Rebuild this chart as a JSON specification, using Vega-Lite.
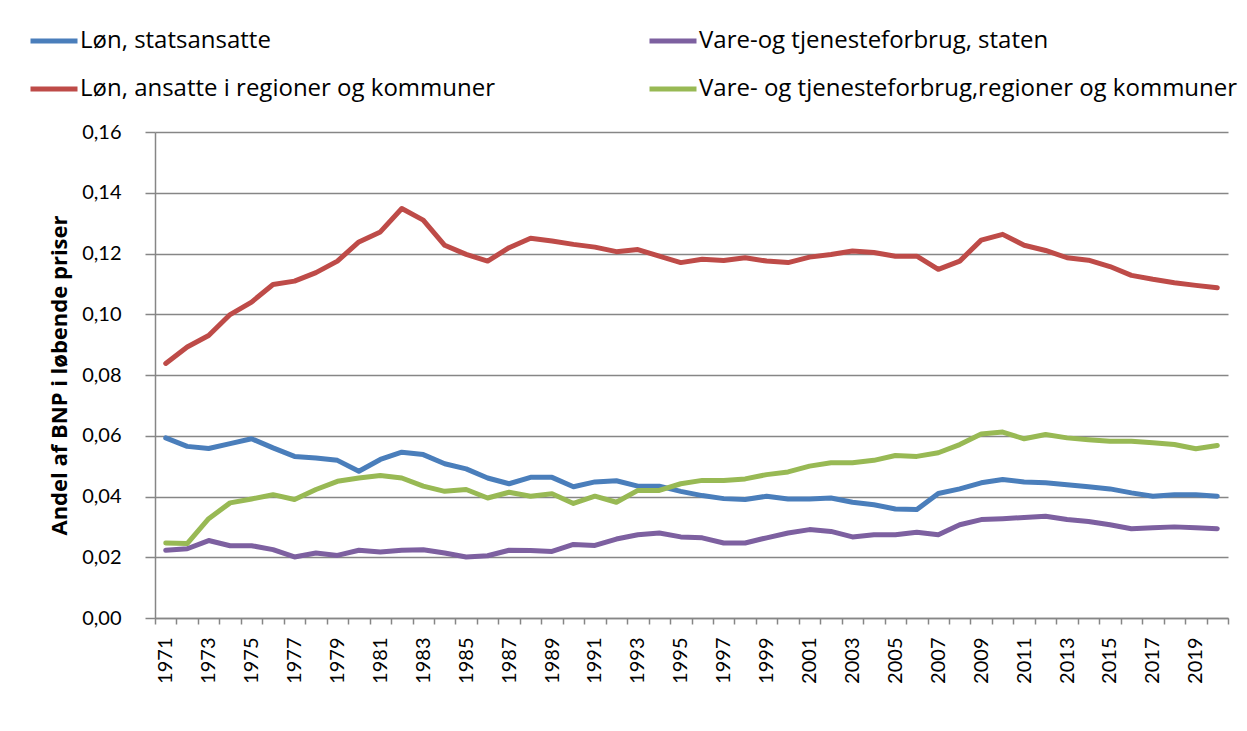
{
  "$schema": "https://vega.github.io/schema/vega-lite/v6.json",
  "autosize": {"type": "none"},
  "width": 1073,
  "height": 486,
  "padding": {"left": 155, "top": 132, "right": 19, "bottom": 113},
  "background": "white",
  "config": {
    "font": "Lato",
    "view": {"stroke": null},
    "axis": {"labelColor": "#000000", "titleColor": "#000000", "labelFont": "Lato", "titleFont": "Open Sans"}
  },
  "data": {
    "values": [
      {"year": 1971, "Løn, statsansatte": 0.0593, "Løn, ansatte i regioner og kommuner": 0.0838, "Vare-og tjenesteforbrug, staten": 0.0223, "Vare- og tjenesteforbrug,regioner og kommuner": 0.0247},
      {"year": 1972, "Løn, statsansatte": 0.0565, "Løn, ansatte i regioner og kommuner": 0.0892, "Vare-og tjenesteforbrug, staten": 0.0228, "Vare- og tjenesteforbrug,regioner og kommuner": 0.0245},
      {"year": 1973, "Løn, statsansatte": 0.0558, "Løn, ansatte i regioner og kommuner": 0.0930, "Vare-og tjenesteforbrug, staten": 0.0255, "Vare- og tjenesteforbrug,regioner og kommuner": 0.0327},
      {"year": 1974, "Løn, statsansatte": 0.0574, "Løn, ansatte i regioner og kommuner": 0.0999, "Vare-og tjenesteforbrug, staten": 0.0238, "Vare- og tjenesteforbrug,regioner og kommuner": 0.0379},
      {"year": 1975, "Løn, statsansatte": 0.0590, "Løn, ansatte i regioner og kommuner": 0.1040, "Vare-og tjenesteforbrug, staten": 0.0238, "Vare- og tjenesteforbrug,regioner og kommuner": 0.0392},
      {"year": 1976, "Løn, statsansatte": 0.0560, "Løn, ansatte i regioner og kommuner": 0.1098, "Vare-og tjenesteforbrug, staten": 0.0225, "Vare- og tjenesteforbrug,regioner og kommuner": 0.0406},
      {"year": 1977, "Løn, statsansatte": 0.0532, "Løn, ansatte i regioner og kommuner": 0.1109, "Vare-og tjenesteforbrug, staten": 0.0201, "Vare- og tjenesteforbrug,regioner og kommuner": 0.0390},
      {"year": 1978, "Løn, statsansatte": 0.0527, "Løn, ansatte i regioner og kommuner": 0.1137, "Vare-og tjenesteforbrug, staten": 0.0214, "Vare- og tjenesteforbrug,regioner og kommuner": 0.0423},
      {"year": 1979, "Løn, statsansatte": 0.0519, "Løn, ansatte i regioner og kommuner": 0.1175, "Vare-og tjenesteforbrug, staten": 0.0206, "Vare- og tjenesteforbrug,regioner og kommuner": 0.0450},
      {"year": 1980, "Løn, statsansatte": 0.0483, "Løn, ansatte i regioner og kommuner": 0.1238, "Vare-og tjenesteforbrug, staten": 0.0223, "Vare- og tjenesteforbrug,regioner og kommuner": 0.0461},
      {"year": 1981, "Løn, statsansatte": 0.0522, "Løn, ansatte i regioner og kommuner": 0.1271, "Vare-og tjenesteforbrug, staten": 0.0217, "Vare- og tjenesteforbrug,regioner og kommuner": 0.0469},
      {"year": 1982, "Løn, statsansatte": 0.0546, "Løn, ansatte i regioner og kommuner": 0.1348, "Vare-og tjenesteforbrug, staten": 0.0223, "Vare- og tjenesteforbrug,regioner og kommuner": 0.0461},
      {"year": 1983, "Løn, statsansatte": 0.0538, "Løn, ansatte i regioner og kommuner": 0.1310, "Vare-og tjenesteforbrug, staten": 0.0225, "Vare- og tjenesteforbrug,regioner og kommuner": 0.0434},
      {"year": 1984, "Løn, statsansatte": 0.0508, "Løn, ansatte i regioner og kommuner": 0.1227, "Vare-og tjenesteforbrug, staten": 0.0214, "Vare- og tjenesteforbrug,regioner og kommuner": 0.0417},
      {"year": 1985, "Løn, statsansatte": 0.0491, "Løn, ansatte i regioner og kommuner": 0.1197, "Vare-og tjenesteforbrug, staten": 0.0201, "Vare- og tjenesteforbrug,regioner og kommuner": 0.0423},
      {"year": 1986, "Løn, statsansatte": 0.0461, "Løn, ansatte i regioner og kommuner": 0.1175, "Vare-og tjenesteforbrug, staten": 0.0205, "Vare- og tjenesteforbrug,regioner og kommuner": 0.0395},
      {"year": 1987, "Løn, statsansatte": 0.0442, "Løn, ansatte i regioner og kommuner": 0.1219, "Vare-og tjenesteforbrug, staten": 0.0223, "Vare- og tjenesteforbrug,regioner og kommuner": 0.0414},
      {"year": 1988, "Løn, statsansatte": 0.0463, "Løn, ansatte i regioner og kommuner": 0.1250, "Vare-og tjenesteforbrug, staten": 0.0222, "Vare- og tjenesteforbrug,regioner og kommuner": 0.0401},
      {"year": 1989, "Løn, statsansatte": 0.0463, "Løn, ansatte i regioner og kommuner": 0.1241, "Vare-og tjenesteforbrug, staten": 0.0219, "Vare- og tjenesteforbrug,regioner og kommuner": 0.0409},
      {"year": 1990, "Løn, statsansatte": 0.0432, "Løn, ansatte i regioner og kommuner": 0.1230, "Vare-og tjenesteforbrug, staten": 0.0242, "Vare- og tjenesteforbrug,regioner og kommuner": 0.0377},
      {"year": 1991, "Løn, statsansatte": 0.0448, "Løn, ansatte i regioner og kommuner": 0.1221, "Vare-og tjenesteforbrug, staten": 0.0239, "Vare- og tjenesteforbrug,regioner og kommuner": 0.0401},
      {"year": 1992, "Løn, statsansatte": 0.0452, "Løn, ansatte i regioner og kommuner": 0.1206, "Vare-og tjenesteforbrug, staten": 0.0260, "Vare- og tjenesteforbrug,regioner og kommuner": 0.0381},
      {"year": 1993, "Løn, statsansatte": 0.0434, "Løn, ansatte i regioner og kommuner": 0.1213, "Vare-og tjenesteforbrug, staten": 0.0274, "Vare- og tjenesteforbrug,regioner og kommuner": 0.0420},
      {"year": 1994, "Løn, statsansatte": 0.0434, "Løn, ansatte i regioner og kommuner": 0.1191, "Vare-og tjenesteforbrug, staten": 0.0280, "Vare- og tjenesteforbrug,regioner og kommuner": 0.0420},
      {"year": 1995, "Løn, statsansatte": 0.0417, "Løn, ansatte i regioner og kommuner": 0.1170, "Vare-og tjenesteforbrug, staten": 0.0267, "Vare- og tjenesteforbrug,regioner og kommuner": 0.0442},
      {"year": 1996, "Løn, statsansatte": 0.0403, "Løn, ansatte i regioner og kommuner": 0.1181, "Vare-og tjenesteforbrug, staten": 0.0264, "Vare- og tjenesteforbrug,regioner og kommuner": 0.0453},
      {"year": 1997, "Løn, statsansatte": 0.0393, "Løn, ansatte i regioner og kommuner": 0.1177, "Vare-og tjenesteforbrug, staten": 0.0247, "Vare- og tjenesteforbrug,regioner og kommuner": 0.0453},
      {"year": 1998, "Løn, statsansatte": 0.0390, "Løn, ansatte i regioner og kommuner": 0.1186, "Vare-og tjenesteforbrug, staten": 0.0247, "Vare- og tjenesteforbrug,regioner og kommuner": 0.0458},
      {"year": 1999, "Løn, statsansatte": 0.0401, "Løn, ansatte i regioner og kommuner": 0.1175, "Vare-og tjenesteforbrug, staten": 0.0264, "Vare- og tjenesteforbrug,regioner og kommuner": 0.0472},
      {"year": 2000, "Løn, statsansatte": 0.0392, "Løn, ansatte i regioner og kommuner": 0.1170, "Vare-og tjenesteforbrug, staten": 0.0280, "Vare- og tjenesteforbrug,regioner og kommuner": 0.0481},
      {"year": 2001, "Løn, statsansatte": 0.0392, "Løn, ansatte i regioner og kommuner": 0.1188, "Vare-og tjenesteforbrug, staten": 0.0291, "Vare- og tjenesteforbrug,regioner og kommuner": 0.0500},
      {"year": 2002, "Løn, statsansatte": 0.0395, "Løn, ansatte i regioner og kommuner": 0.1197, "Vare-og tjenesteforbrug, staten": 0.0285, "Vare- og tjenesteforbrug,regioner og kommuner": 0.0511},
      {"year": 2003, "Løn, statsansatte": 0.0381, "Løn, ansatte i regioner og kommuner": 0.1208, "Vare-og tjenesteforbrug, staten": 0.0267, "Vare- og tjenesteforbrug,regioner og kommuner": 0.0511},
      {"year": 2004, "Løn, statsansatte": 0.0373, "Løn, ansatte i regioner og kommuner": 0.1203, "Vare-og tjenesteforbrug, staten": 0.0274, "Vare- og tjenesteforbrug,regioner og kommuner": 0.0519},
      {"year": 2005, "Løn, statsansatte": 0.0359, "Løn, ansatte i regioner og kommuner": 0.1191, "Vare-og tjenesteforbrug, staten": 0.0274, "Vare- og tjenesteforbrug,regioner og kommuner": 0.0535},
      {"year": 2006, "Løn, statsansatte": 0.0357, "Løn, ansatte i regioner og kommuner": 0.1191, "Vare-og tjenesteforbrug, staten": 0.0282, "Vare- og tjenesteforbrug,regioner og kommuner": 0.0532},
      {"year": 2007, "Løn, statsansatte": 0.0410, "Løn, ansatte i regioner og kommuner": 0.1148, "Vare-og tjenesteforbrug, staten": 0.0274, "Vare- og tjenesteforbrug,regioner og kommuner": 0.0544},
      {"year": 2008, "Løn, statsansatte": 0.0425, "Løn, ansatte i regioner og kommuner": 0.1175, "Vare-og tjenesteforbrug, staten": 0.0307, "Vare- og tjenesteforbrug,regioner og kommuner": 0.0571},
      {"year": 2009, "Løn, statsansatte": 0.0445, "Løn, ansatte i regioner og kommuner": 0.1244, "Vare-og tjenesteforbrug, staten": 0.0324, "Vare- og tjenesteforbrug,regioner og kommuner": 0.0606},
      {"year": 2010, "Løn, statsansatte": 0.0456, "Løn, ansatte i regioner og kommuner": 0.1263, "Vare-og tjenesteforbrug, staten": 0.0327, "Vare- og tjenesteforbrug,regioner og kommuner": 0.0612},
      {"year": 2011, "Løn, statsansatte": 0.0448, "Løn, ansatte i regioner og kommuner": 0.1227, "Vare-og tjenesteforbrug, staten": 0.0331, "Vare- og tjenesteforbrug,regioner og kommuner": 0.0590},
      {"year": 2012, "Løn, statsansatte": 0.0445, "Løn, ansatte i regioner og kommuner": 0.1210, "Vare-og tjenesteforbrug, staten": 0.0335, "Vare- og tjenesteforbrug,regioner og kommuner": 0.0604},
      {"year": 2013, "Løn, statsansatte": 0.0439, "Løn, ansatte i regioner og kommuner": 0.1186, "Vare-og tjenesteforbrug, staten": 0.0324, "Vare- og tjenesteforbrug,regioner og kommuner": 0.0593},
      {"year": 2014, "Løn, statsansatte": 0.0432, "Løn, ansatte i regioner og kommuner": 0.1178, "Vare-og tjenesteforbrug, staten": 0.0318, "Vare- og tjenesteforbrug,regioner og kommuner": 0.0587},
      {"year": 2015, "Løn, statsansatte": 0.0425, "Løn, ansatte i regioner og kommuner": 0.1157, "Vare-og tjenesteforbrug, staten": 0.0307, "Vare- og tjenesteforbrug,regioner og kommuner": 0.0582},
      {"year": 2016, "Løn, statsansatte": 0.0412, "Løn, ansatte i regioner og kommuner": 0.1128, "Vare-og tjenesteforbrug, staten": 0.0294, "Vare- og tjenesteforbrug,regioner og kommuner": 0.0582},
      {"year": 2017, "Løn, statsansatte": 0.0401, "Løn, ansatte i regioner og kommuner": 0.1115, "Vare-og tjenesteforbrug, staten": 0.0297, "Vare- og tjenesteforbrug,regioner og kommuner": 0.0577},
      {"year": 2018, "Løn, statsansatte": 0.0406, "Løn, ansatte i regioner og kommuner": 0.1104, "Vare-og tjenesteforbrug, staten": 0.0300, "Vare- og tjenesteforbrug,regioner og kommuner": 0.0571},
      {"year": 2019, "Løn, statsansatte": 0.0406, "Løn, ansatte i regioner og kommuner": 0.1095, "Vare-og tjenesteforbrug, staten": 0.0297, "Vare- og tjenesteforbrug,regioner og kommuner": 0.0557},
      {"year": 2020, "Løn, statsansatte": 0.0401, "Løn, ansatte i regioner og kommuner": 0.1087, "Vare-og tjenesteforbrug, staten": 0.0294, "Vare- og tjenesteforbrug,regioner og kommuner": 0.0568}
    ]
  },
  "transform": [
    {"fold": ["Løn, statsansatte", "Løn, ansatte i regioner og kommuner", "Vare-og tjenesteforbrug, staten", "Vare- og tjenesteforbrug,regioner og kommuner"], "as": ["serie", "andel"]}
  ],
  "mark": {"type": "line", "strokeWidth": 5, "strokeJoin": "round", "strokeCap": "round"},
  "encoding": {
    "x": {
      "field": "year",
      "type": "ordinal",
      "bandPosition": 0.5,
      "scale": {"type": "band", "paddingInner": 0, "paddingOuter": 0},
      "axis": {
        "title": null,
        "tickBand": "extent",
        "labelAngle": -90,
        "labelExpr": "datum.value % 2 == 1 ? datum.label : ''",
        "labelFontSize": 20,
        "labelPadding": 13,
        "tickSize": 6,
        "tickColor": "#868686",
        "tickWidth": 1.5,
        "domainColor": "#868686",
        "domainWidth": 1.5,
        "grid": false
      }
    },
    "y": {
      "field": "andel",
      "type": "quantitative",
      "scale": {"domain": [0, 0.16], "nice": false, "zero": true},
      "axis": {
        "title": "Andel af BNP i løbende priser",
        "titleFont": "Open Sans",
        "titleFontSize": 22,
        "titleFontWeight": "bold",
        "titlePadding": 10,
        "values": [0, 0.02, 0.04, 0.06, 0.08, 0.1, 0.12, 0.14, 0.16],
        "labelExpr": "replace(format(datum.value, '.2f'), '.', ',')",
        "labelFontSize": 20,
        "labelPadding": 24,
        "tickSize": 10,
        "tickColor": "#868686",
        "tickWidth": 1.5,
        "domainColor": "#868686",
        "domainWidth": 1.5,
        "grid": true,
        "gridColor": "#868686",
        "gridWidth": 1.5
      }
    },
    "color": {
      "field": "serie",
      "type": "nominal",
      "scale": {
        "domain": ["Løn, statsansatte", "Vare-og tjenesteforbrug, staten", "Løn, ansatte i regioner og kommuner", "Vare- og tjenesteforbrug,regioner og kommuner"],
        "range": ["#4A7EBB", "#7D60A0", "#BE4B48", "#98B954"]
      },
      "legend": {
        "title": null,
        "orient": "none",
        "legendX": -127,
        "legendY": -117,
        "columns": 2,
        "direction": "horizontal",
        "symbolType": "stroke",
        "symbolSize": 2209,
        "symbolStrokeWidth": 5,
        "labelFontSize": 24,
        "labelFont": "Open Sans",
        "labelColor": "#000000",
        "labelOffset": 0,
        "labelLimit": 800,
        "rowPadding": 10,
        "columnPadding": 143
      }
    }
  }
}
